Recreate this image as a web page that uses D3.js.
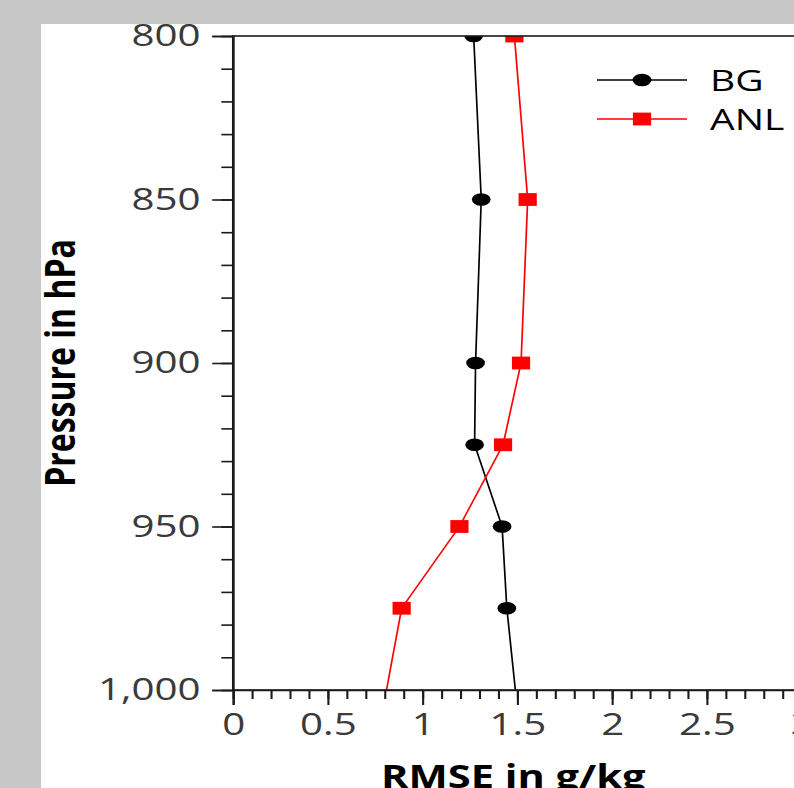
<!DOCTYPE html>
<html>
<head>
<meta charset="utf-8">
<script src="https://cdn.jsdelivr.net/npm/d3@7"></script>
<style>
  html, body { margin: 0; padding: 0; background: #c6c7c6; overflow: hidden; }
  svg { display: block; }
  text { font-family: "Open Sans", "Noto Sans", sans-serif; }
</style>
</head>
<body>
<svg id="chart" width="794" height="788"></svg>
<script>
// Pressure levels (hPa) and RMSE of humidity (g/kg) for background and analysis
const levels = [800, 850, 900, 925, 950, 975, 1000];
const bgRmse  = [1.27, 1.31, 1.28, 1.275, 1.42, 1.445, 1.49];
const anlRmse = [1.485, 1.555, 1.52, 1.425, 1.195, 0.89, 0.81];
// the surface level is only reached by the lines, it carries no marker
const markerLevels = [800, 850, 900, 925, 950, 975];

const seriesNames = ["BG", "ANL"];
const xTicks = [0, 0.5, 1, 1.5, 2, 2.5, 3];
const yTicks = [800, 850, 900, 950, 1000];
const xDomain = [0, 3];
const yDomain = [800, 1000];

const SX = 1.3;            // horizontal stretch of the whole figure
const W = 794, H = 788;

const svg = d3.select("#chart");
svg.append("rect").attr("x", 0).attr("y", 0).attr("width", W).attr("height", H).attr("fill", "#c6c7c6");
svg.append("rect").attr("x", 41).attr("y", 24).attr("width", W - 41).attr("height", H - 24).attr("fill", "#ffffff");

const g = svg.append("g").attr("transform", `scale(${SX},1)`);

const plotLeft = 233 / SX, plotRight = 801.5 / SX, plotTop = 36, plotBottom = 690;

const x = d3.scaleLinear().domain(xDomain).range([plotLeft, plotRight]);
const y = d3.scaleLinear().domain(yDomain).range([plotTop, plotBottom]);

// clip for the data
g.append("clipPath").attr("id", "plotClip")
  .append("rect").attr("x", plotLeft).attr("y", plotTop)
  .attr("width", plotRight - plotLeft).attr("height", plotBottom - plotTop);

const data = seriesNames.map((name, i) => ({
  name,
  color: i === 0 ? "#000000" : "#ff0000",
  marker: i === 0 ? "circle" : "square",
  values: levels.map((p, j) => ({ p, v: (i === 0 ? bgRmse : anlRmse)[j] }))
}));

const line = d3.line().x(d => x(d.v)).y(d => y(d.p));
const plot = g.append("g").attr("clip-path", "url(#plotClip)");

function drawMarker(sel, type, color, cx, cy) {
  if (type === "circle") {
    sel.append("ellipse").attr("cx", cx).attr("cy", cy).attr("rx", 7.2).attr("ry", 6.3).attr("fill", color);
  } else {
    sel.append("rect").attr("x", cx - 7).attr("y", cy - 6.4).attr("width", 14).attr("height", 12.8).attr("fill", color);
  }
}

data.forEach(s => {
  plot.append("path").datum(s.values)
    .attr("d", line).attr("fill", "none")
    .attr("stroke", s.color).attr("stroke-width", 1.3);
  s.values.filter(d => markerLevels.includes(d.p)).forEach(d => {
    drawMarker(plot, s.marker, s.color, x(d.v), y(d.p));
  });
});

// frame
g.append("rect").attr("x", plotLeft).attr("y", plotTop)
  .attr("width", plotRight - plotLeft).attr("height", plotBottom - plotTop)
  .attr("fill", "none").attr("stroke", "#1a1a1a").attr("stroke-width", 1.6);

// y axis: major and minor ticks
const yMinor = d3.range(800, 1000.1, 10);
g.append("g").attr("transform", `translate(${plotLeft},0)`)
  .call(d3.axisLeft(y).tickValues(yMinor).tickSize(9).tickFormat(""))
  .call(a => a.select(".domain").remove())
  .call(a => a.selectAll("line").attr("stroke", "#1a1a1a").attr("stroke-width", 1.6));
const yAx = g.append("g").attr("transform", `translate(${plotLeft},0)`)
  .call(d3.axisLeft(y).tickValues(yTicks).tickSize(16).tickPadding(9).tickFormat(d3.format(",")));
yAx.select(".domain").attr("stroke", "#1a1a1a").attr("stroke-width", 1.6);
yAx.selectAll("line").attr("stroke", "#1a1a1a").attr("stroke-width", 1.6);
yAx.selectAll("text").attr("font-size", 31).attr("fill", "#3a3a3a")
  .attr("font-family", "'Open Sans', 'Noto Sans', sans-serif");

// x axis: major and minor ticks
const xMinor = d3.range(0, 3.001, 0.1);
g.append("g").attr("transform", `translate(0,${plotBottom})`)
  .call(d3.axisBottom(x).tickValues(xMinor).tickSize(9).tickFormat(""))
  .call(a => a.select(".domain").remove())
  .call(a => a.selectAll("line").attr("stroke", "#1a1a1a").attr("stroke-width", 1.6));
const xAx = g.append("g").attr("transform", `translate(0,${plotBottom})`)
  .call(d3.axisBottom(x).tickValues(xTicks).tickSize(15).tickPadding(8).tickFormat(d3.format("~g")));
xAx.select(".domain").attr("stroke", "#1a1a1a").attr("stroke-width", 1.6);
xAx.selectAll("line").attr("stroke", "#1a1a1a").attr("stroke-width", 1.6);
xAx.selectAll("text").attr("font-size", 31).attr("fill", "#3a3a3a")
  .attr("font-family", "'Open Sans', 'Noto Sans', sans-serif");

// axis titles
g.append("text")
  .attr("x", (plotLeft + plotRight) / 2 - 3).attr("y", 788)
  .attr("text-anchor", "middle").attr("font-size", 32).attr("font-weight", "bold").attr("fill", "#000")
  .text("RMSE in g/kg");
g.append("text")
  .attr("transform", `translate(${75 / SX},${(plotTop + plotBottom) / 2}) rotate(-90)`)
  .attr("text-anchor", "middle").attr("font-size", 32).attr("font-weight", "bold").attr("fill", "#000")
  .text("Pressure in hPa");

// legend
const legX0 = 597 / SX, legX1 = 687 / SX, legText = 710 / SX;
const legY = [80, 119];
data.forEach((s, i) => {
  const lg = g.append("g");
  lg.append("line").attr("x1", legX0).attr("x2", legX1).attr("y1", legY[i]).attr("y2", legY[i])
    .attr("stroke", s.color).attr("stroke-width", 1.3);
  drawMarker(lg, s.marker, s.color, (legX0 + legX1) / 2, legY[i]);
  lg.append("text").attr("x", legText).attr("y", legY[i]).attr("dy", "0.36em")
    .attr("font-size", 30).attr("fill", "#000").text(s.name);
});
</script>
</body>
</html>
